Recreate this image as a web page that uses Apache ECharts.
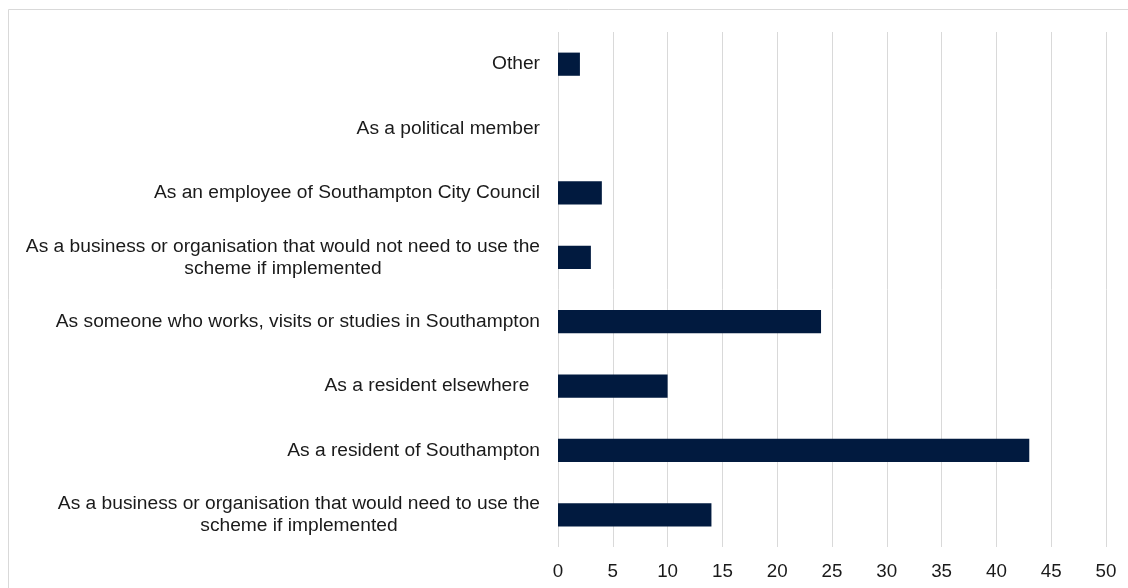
<!DOCTYPE html>
<html>
<head>
<meta charset="utf-8">
<title>Capacity of respondents</title>
<script src="https://cdn.jsdelivr.net/npm/echarts@6/dist/echarts.min.js"></script>
<style>
  html, body { margin: 0; padding: 0; background: #ffffff; }
  #chart { width: 1128px; height: 588px; }
</style>
</head>
<body>
<div id="chart"></div>
<script>
// Respondent capacity, listed bottom to top as drawn on the category axis
const categories = [
  'As a business or organisation that would need to use the\nscheme if implemented',
  'As a resident of Southampton',
  'As a resident elsewhere  ',
  'As someone who works, visits or studies in Southampton',
  'As a business or organisation that would not need to use the\nscheme if implemented',
  'As an employee of Southampton City Council',
  'As a political member',
  'Other'
];
const responses = [14, 43, 10, 24, 3, 4, 0, 2];
const xTicks = [0, 5, 10, 15, 20, 25, 30, 35, 40, 45, 50];

const chart = echarts.init(document.getElementById('chart'), null, { renderer: 'canvas' });

const font = '"Liberation Sans", Arial, sans-serif';
const labelSize = 19.2;

chart.setOption({
  animation: false,
  backgroundColor: '#ffffff',
  graphic: [{
    type: 'rect',
    shape: { x: 8.5, y: 9.5, width: 1140, height: 600 },
    style: { fill: 'none', stroke: '#d9d9d9', lineWidth: 1 },
    silent: true,
    z: -1
  }],
  grid: { left: 558, right: 22, top: 32, bottom: 41, containLabel: false },
  xAxis: {
    type: 'value',
    min: xTicks[0],
    max: xTicks[xTicks.length - 1],
    interval: xTicks[1] - xTicks[0],
    axisLine: { show: false },
    axisTick: { show: false },
    splitLine: { show: true, lineStyle: { color: '#d9d9d9', width: 1 } },
    axisLabel: {
      color: '#1a1a1a',
      fontFamily: font,
      fontSize: 18.8,
      margin: 15,
      formatter: v => String(v)
    }
  },
  yAxis: {
    type: 'category',
    data: categories,
    axisLine: { show: false },
    axisTick: { show: false },
    splitLine: { show: false },
    axisLabel: {
      color: '#1a1a1a',
      fontFamily: font,
      fontSize: labelSize,
      lineHeight: 22,
      margin: 18,
      interval: 0,
      formatter: v => v.split('\n').map(line => '{c|' + line + '}').join('\n'),
      rich: {
        c: { align: 'center', fontFamily: font, fontSize: labelSize, lineHeight: 22, color: '#1a1a1a' }
      }
    }
  },
  series: [{
    type: 'bar',
    data: responses,
    barCategoryGap: '64%',
    itemStyle: { color: '#011a3f' },
    emphasis: { disabled: true }
  }]
});
</script>
</body>
</html>
